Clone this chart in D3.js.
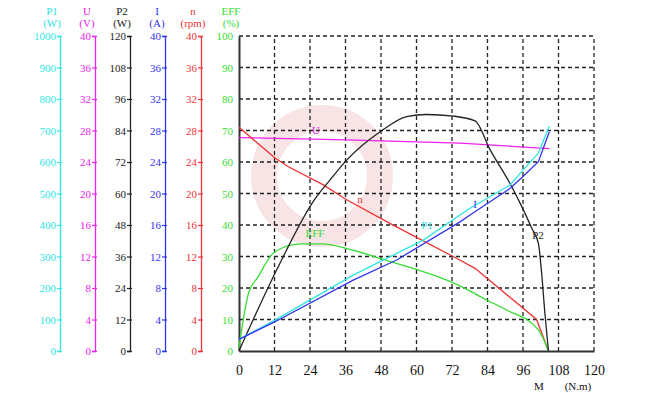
<!DOCTYPE html>
<html><head><meta charset="utf-8">
<script src="https://cdn.jsdelivr.net/npm/d3@7"></script>
<style>
html,body{margin:0;padding:0;background:#fff;}
svg{display:block;}
svg text{font-family:"Liberation Serif","Times New Roman",serif;}
</style></head>
<body><svg id="c" width="650" height="393"></svg>
<script>
// ---- data ----
const mTicks = [0,12,24,36,48,60,72,84,96,108,120];
const effTicks = [0,10,20,30,40,50,60,70,80,90,100];
const p1Ticks = [0,100,200,300,400,500,600,700,800,900,1000];
const uTicks = [0,4,8,12,16,20,24,28,32,36,40];
const p2Ticks = [0,12,24,36,48,60,72,84,96,108,120];
const iTicks = [0,4,8,12,16,20,24,28,32,36,40];
const nTicks = [0,4,8,12,16,20,24,28,32,36,40];

const uM = [0, 36.4, 74.7, 104.9];
const uV = [27.1, 26.8, 26.4, 25.7];

const nM = [0, 12.2, 16.7, 28.5, 36.4, 51, 72.4, 79.8, 100.6, 104.6];
const nRpm = [28.4, 24.5, 23.4, 21.1, 19.2, 16.2, 12.0, 10.5, 4.0, 0];

const effM = [0, 2, 3.2, 6.5, 11, 15.6, 21.2, 28, 38.1, 47.7, 74.7, 83.7, 90.5, 101.2, 104.6];
const effPct = [1, 13, 18.3, 23.6, 30.5, 33.1, 34, 34, 32.1, 29.4, 20.7, 16.2, 13, 6.7, 0];

const p2M = [0, 13.3, 25.4, 30.8, 36.4, 47.7, 56.7, 63.5, 72.4, 79.8, 84.9, 91.6, 95.6, 99, 101.2, 102.3, 103.4, 104.6];
const p2W = [0, 32.2, 57.5, 65.2, 72.7, 83.5, 89.3, 90.1, 89.5, 87.7, 76.6, 63.8, 55, 46.7, 41, 29.6, 14.4, 0];

const p1M = [0, 12.2, 38.6, 49.9, 62.3, 74.7, 78.1, 91.6, 96.1, 101.2, 104.9];
const p1W = [37, 98, 241, 294, 352, 432, 453, 527, 575, 628, 714];

const iM = [0, 12.2, 38.6, 53.3, 74.7, 78.1, 91.6, 96.1, 101.2, 104.9];
const iA = [1.48, 3.72, 9.0, 11.56, 16.4, 17.28, 20.64, 22.2, 24.04, 27.84];

const headers = [
  {t1:"P1", t2:"(W)", color:"#2ee6e6"},
  {t1:"U", t2:"(V)", color:"#ee22ee"},
  {t1:"P2", t2:"(W)", color:"#222222"},
  {t1:"I", t2:"(A)", color:"#3333ee"},
  {t1:"n", t2:"(rpm)", color:"#ee3333"},
  {t1:"EFF", t2:"(%)", color:"#33dd33"}
];

// ---- layout ----
const svg = d3.select("#c");
const X0 = 239, X1 = 594, Y0 = 351, Y1 = 36;
const x = d3.scaleLinear().domain([0,120]).range([X0,X1]);
const yEff = d3.scaleLinear().domain([0,100]).range([Y0,Y1]);
const yP1 = d3.scaleLinear().domain([0,1000]).range([Y0,Y1]);
const yU = d3.scaleLinear().domain([0,40]).range([Y0,Y1]);
const yP2 = d3.scaleLinear().domain([0,120]).range([Y0,Y1]);
const yI = d3.scaleLinear().domain([0,40]).range([Y0,Y1]);
const yN = d3.scaleLinear().domain([0,40]).range([Y0,Y1]);
const fmt = d3.format("d");

// watermark ring (faint)
svg.append("circle").attr("cx",322).attr("cy",176).attr("r",58)
  .attr("fill","none").attr("stroke","#f8e4e4").attr("stroke-width",26);

// grid
const g = svg.append("g");
g.selectAll("line.v").data(mTicks.slice(1)).join("line")
  .attr("x1",d=>x(d)).attr("x2",d=>x(d)).attr("y1",Y0).attr("y2",Y1)
  .attr("stroke","#222").attr("stroke-width",1.3).attr("stroke-dasharray","4,3");
g.selectAll("line.h").data(effTicks.slice(1)).join("line")
  .attr("x1",X0).attr("x2",X1).attr("y1",d=>yEff(d)).attr("y2",d=>yEff(d))
  .attr("stroke","#222").attr("stroke-width",1.3).attr("stroke-dasharray","4,3");

// bottom axis
const xAxis = svg.append("g").attr("transform",`translate(0,${Y0})`)
  .call(d3.axisBottom(x).tickValues(mTicks).tickFormat(fmt).tickSize(0).tickPadding(14));
xAxis.attr("font-family",null);
xAxis.select(".domain").attr("stroke","#333").attr("stroke-width",2);
xAxis.selectAll("text").attr("font-size",14).attr("fill","#111");
svg.append("text").attr("x",539).attr("y",390).attr("text-anchor","middle")
  .attr("font-size",11).attr("fill","#111").text("M");
svg.append("text").attr("x",578).attr("y",390).attr("text-anchor","middle")
  .attr("font-size",11).attr("fill","#111").text("(N.m)");

// left axes
const axes = [
  {x:60, scale:yP1, ticks:p1Ticks},
  {x:95, scale:yU, ticks:uTicks},
  {x:130, scale:yP2, ticks:p2Ticks},
  {x:165, scale:yI, ticks:iTicks},
  {x:201, scale:yN, ticks:nTicks},
  {x:239, scale:yEff, ticks:effTicks}
];
axes.forEach((a,k)=>{
  const h = headers[k];
  const isEff = k===5;
  const ag = svg.append("g").attr("transform",`translate(${a.x},0)`)
    .call(d3.axisLeft(a.scale).tickValues(a.ticks).tickFormat(fmt).tickSizeOuter(0)
      .tickSize(isEff?0:3).tickPadding(isEff?6:1));
  ag.attr("font-family",null);
  ag.select(".domain").attr("stroke", isEff ? "#333" : h.color).attr("stroke-width", isEff?2:1.3);
  ag.selectAll(".tick line").attr("stroke",h.color).attr("x2",isEff?0:-3).attr("x1",isEff?0:2).attr("stroke-width",1.2);
  ag.selectAll("text").attr("font-size",11).attr("fill",h.color);
  svg.append("text").attr("x",a.x-8).attr("y",15).attr("text-anchor","middle")
    .attr("font-size",11).attr("fill",h.color).text(h.t1);
  svg.append("text").attr("x",a.x-8).attr("y",27).attr("text-anchor","middle")
    .attr("font-size",11).attr("fill",h.color).text(h.t2);
});

// curves
function draw(ms, vs, yScale, color, curve){
  const pts = ms.map((m,i)=>[m,vs[i]]);
  const line = d3.line().x(d=>x(d[0])).y(d=>yScale(d[1])).curve(curve||d3.curveLinear);
  svg.append("path").datum(pts).attr("d",line).attr("fill","none")
    .attr("stroke",color).attr("stroke-width",1.3);
}
draw(uM, uV, yU, "#ee22ee");
draw(nM, nRpm, yN, "#ee3333");
draw(effM, effPct, yEff, "#33dd33", d3.curveMonotoneX);
draw(p2M, p2W, yP2, "#222222", d3.curveMonotoneX);
draw(p1M, p1W, yP1, "#2ee6e6");
draw(iM, iA, yI, "#3333ee");

// curve labels
const labels = [
  {t:"U", x:316, y:134, c:"#ee22ee"},
  {t:"n", x:360, y:203, c:"#ee3333"},
  {t:"EFF", x:315, y:237, c:"#33dd33"},
  {t:"P1", x:427, y:229, c:"#2ee6e6"},
  {t:"I", x:475, y:208, c:"#3333ee"},
  {t:"P2", x:538, y:239, c:"#222222"}
];
svg.selectAll("text.lab").data(labels).join("text").attr("class","lab")
  .attr("x",d=>d.x).attr("y",d=>d.y).attr("text-anchor","middle")
  .attr("font-size",11).attr("fill",d=>d.c).text(d=>d.t);
</script></body></html>
